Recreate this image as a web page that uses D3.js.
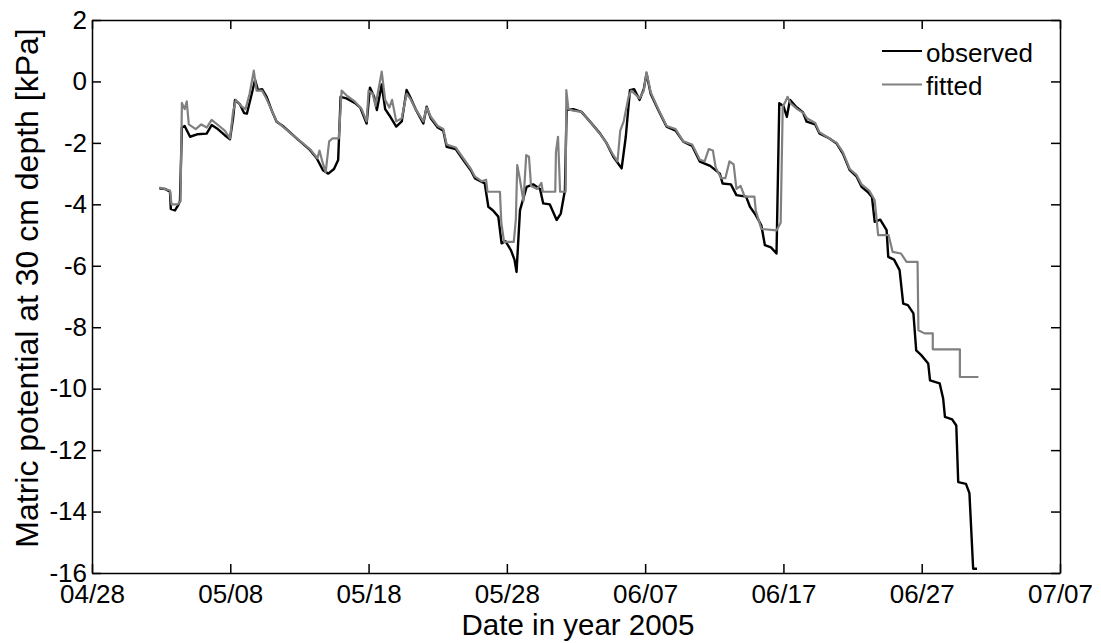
<!DOCTYPE html>
<html>
<head>
<meta charset="utf-8">
<script src="https://cdn.jsdelivr.net/npm/d3@7"></script>
<style>
  body { margin: 0; background: #fff; }
  svg { display: block; font-family: "Liberation Sans", Arial, sans-serif; }
  .axis path, .axis line { stroke: #000; stroke-width: 1.5; }
  .axis text { font-size: 26px; fill: #000; }
</style>
</head>
<body>
<svg class="chart"></svg>
<script>
// DATA /////////////////////////////////////////
// days after 2005-04-28, matric potential [kPa]
const observed = [
  [4.87, -3.48], [5.3, -3.5], [5.64, -3.59], [5.7, -4.15], [6.0, -4.2], [6.2, -4.05],
  [6.36, -3.9], [6.5, -1.5], [6.7, -1.45], [7.09, -1.8], [7.6, -1.72], [8.29, -1.7],
  [8.65, -1.42], [9.1, -1.55], [9.6, -1.75], [9.98, -1.88], [10.2, -1.2], [10.34, -0.6],
  [10.7, -0.75], [11.0, -1.03], [11.2, -1.05], [11.5, -0.5], [11.79, 0.05], [12.0, -0.28],
  [12.3, -0.25], [12.63, -0.5], [13.0, -0.95], [13.35, -1.31], [13.8, -1.45], [14.8, -1.85],
  [15.76, -2.23], [16.25, -2.5], [16.7, -2.89], [17.09, -3.0], [17.5, -2.85], [17.8, -2.56],
  [17.98, -0.5], [18.4, -0.55], [19.0, -0.7], [19.4, -0.85], [19.86, -1.37], [20.1, -0.2],
  [20.4, -0.5], [20.6, -0.93], [20.95, -0.1], [21.2, -0.9], [21.5, -1.1], [22.0, -1.47],
  [22.4, -1.3], [22.75, -0.28], [23.0, -0.5], [23.4, -0.9], [23.96, -1.37], [24.2, -0.82],
  [24.5, -1.2], [25.0, -1.5], [25.4, -1.6], [25.65, -2.13], [26.3, -2.2], [26.85, -2.56],
  [27.4, -2.9], [27.7, -3.16], [28.4, -3.32], [28.66, -4.08], [29.0, -4.2], [29.38, -4.4],
  [29.62, -5.27], [29.9, -5.2], [30.3, -5.5], [30.55, -5.8], [30.7, -6.2], [30.95, -4.19],
  [31.43, -3.43], [31.9, -3.35], [32.4, -3.5], [32.63, -3.97], [33.1, -4.0], [33.6, -4.51],
  [33.9, -4.3], [34.2, -3.54], [34.32, -0.93], [34.8, -0.9], [35.4, -0.99], [36.0, -1.3],
  [36.73, -1.69], [37.2, -2.0], [37.7, -2.45], [38.3, -2.83], [38.6, -1.8], [38.9, -0.28],
  [39.2, -0.25], [39.6, -0.6], [39.9, -0.25], [40.1, 0.26], [40.4, -0.4], [40.95, -0.93],
  [41.55, -1.47], [42.2, -1.6], [42.76, -1.96], [43.4, -2.1], [43.96, -2.61], [44.7, -2.75],
  [45.4, -3.0], [45.6, -3.32], [46.2, -3.35], [46.6, -3.7], [47.3, -3.75], [47.58, -4.08],
  [48.0, -4.35], [48.4, -4.68], [48.66, -5.33], [49.1, -5.4], [49.5, -5.6], [49.7, -0.71],
  [50.0, -0.8], [50.25, -1.15], [50.47, -0.6], [50.9, -0.82], [51.4, -1.0], [51.68, -1.31],
  [52.3, -1.4], [52.6, -1.69], [53.3, -1.85], [53.85, -2.02], [54.3, -2.35], [54.8, -2.89],
  [55.3, -3.1], [55.65, -3.43], [56.1, -3.6], [56.4, -3.76], [56.6, -4.57], [57.0, -4.5],
  [57.46, -4.84], [57.58, -5.71], [58.0, -5.8], [58.4, -6.14], [58.66, -7.23], [59.0, -7.28],
  [59.4, -7.55], [59.6, -8.75], [59.95, -8.9], [60.47, -9.18], [60.6, -9.73], [61.3, -9.83],
  [61.55, -10.32], [61.68, -10.92], [62.2, -11.0], [62.5, -11.2], [62.64, -13.04], [63.2, -13.1],
  [63.45, -13.4], [63.72, -15.86], [64.0, -15.86]
];

const fitted = [
  [4.87, -3.45], [5.64, -3.55], [5.75, -4.0], [6.2, -4.0], [6.4, -3.9], [6.5, -0.7],
  [6.7, -0.9], [6.85, -0.65], [7.0, -1.4], [7.5, -1.55], [7.9, -1.4], [8.3, -1.5],
  [8.65, -1.25], [9.2, -1.45], [9.6, -1.6], [9.98, -1.85], [10.2, -1.0], [10.4, -0.6],
  [10.8, -0.8], [11.1, -0.9], [11.4, -0.4], [11.7, 0.35], [11.9, -0.3], [12.3, -0.3],
  [12.6, -0.55], [13.35, -1.3], [14.8, -1.85], [15.76, -2.2], [16.3, -2.5], [16.45, -2.25],
  [16.65, -2.6], [16.9, -2.95], [17.15, -1.95], [17.4, -1.85], [17.85, -1.85], [18.05, -0.3],
  [18.4, -0.45], [19.0, -0.65], [19.5, -0.9], [19.86, -1.3], [20.0, -0.3], [20.3, -0.4],
  [20.5, -0.8], [20.95, 0.32], [21.2, -0.6], [21.5, -0.85], [21.7, -0.6], [22.0, -1.3],
  [22.4, -1.2], [22.75, -0.4], [23.0, -0.55], [23.4, -0.9], [23.96, -1.3], [24.2, -0.85],
  [24.5, -1.15], [25.0, -1.45], [25.4, -1.55], [25.65, -2.05], [26.3, -2.15], [26.85, -2.5],
  [27.4, -2.85], [27.7, -3.1], [28.2, -3.25], [28.5, -3.2], [28.6, -3.59], [29.5, -3.59],
  [29.6, -4.6], [29.8, -5.22], [30.5, -5.22], [30.65, -4.5], [30.75, -2.72], [30.95, -3.2],
  [31.2, -3.9], [31.4, -2.4], [31.6, -2.45], [31.75, -3.4], [32.2, -3.5], [32.5, -3.3],
  [32.6, -3.59], [33.5, -3.59], [33.55, -2.3], [33.7, -1.8], [33.85, -3.59], [34.25, -3.59],
  [34.3, -0.28], [34.45, -0.9], [34.8, -0.95], [35.4, -0.99], [36.0, -1.3], [36.73, -1.7],
  [37.2, -2.0], [37.7, -2.4], [38.0, -2.6], [38.2, -1.6], [38.45, -1.3], [38.8, -0.5],
  [39.0, -0.3], [39.6, -0.55], [39.9, -0.3], [40.1, 0.3], [40.4, -0.35], [40.95, -0.9],
  [41.55, -1.45], [42.2, -1.55], [42.76, -1.95], [43.4, -2.05], [43.96, -2.55], [44.3, -2.6],
  [44.6, -2.2], [44.9, -2.25], [45.1, -2.8], [45.5, -3.15], [45.8, -3.15], [46.1, -2.6],
  [46.4, -2.7], [46.6, -3.5], [46.9, -3.4], [47.2, -3.75], [47.9, -3.75], [48.0, -4.2],
  [48.4, -4.8], [49.5, -4.85], [49.8, -4.6], [49.95, -0.8], [50.1, -0.7], [50.3, -0.5],
  [50.5, -0.7], [51.0, -0.9], [51.5, -1.05], [51.7, -1.2], [52.3, -1.35], [52.6, -1.65],
  [53.3, -1.85], [53.85, -2.0], [54.3, -2.3], [54.8, -2.85], [55.3, -3.05], [55.65, -3.35],
  [56.2, -3.55], [56.6, -3.86], [56.85, -5.0], [57.6, -5.0], [57.9, -5.55], [58.5, -5.6],
  [58.9, -5.87], [59.7, -5.87], [59.76, -8.1], [60.2, -8.2], [60.8, -8.2], [60.8, -8.72],
  [62.76, -8.72], [62.76, -9.62], [64.1, -9.62]
];

const xTickDays = [0, 10, 20, 30, 40, 50, 60, 70];
const yTicks = [2, 0, -2, -4, -6, -8, -10, -12, -14, -16];
const legendItems = [
  { name: "observed", color: "#000" },
  { name: "fitted", color: "#808080" }
];

// DEFINITIONS /////////////////////////////////
const margin = { top: 20, right: 41, bottom: 70, left: 92 };
const width = 1101 - margin.left - margin.right;
const height = 643 - margin.top - margin.bottom;
const start = Date.UTC(2005, 3, 28);
const toDate = (d) => new Date(start + d * 864e5);

const svg = d3.select(".chart").attr("width", 1101).attr("height", 643);
const chartG = svg.append("g").attr("transform", `translate(${margin.left}, ${margin.top})`);

const x = d3.scaleUtc().domain([toDate(0), toDate(70)]).range([0, width]);
const y = d3.scaleLinear().domain([-16, 2]).range([height, 0]);

// AXES ////////////////////////////////////////
const fmt = d3.utcFormat("%m/%d");
const xTicks = xTickDays.map(toDate);

chartG.append("g").attr("class", "axis")
  .attr("transform", `translate(0, ${height})`)
  .call(d3.axisBottom(x).tickValues(xTicks).tickFormat(fmt).tickSize(-9).tickSizeOuter(0).tickPadding(12));
chartG.append("g").attr("class", "axis")
  .call(d3.axisTop(x).tickValues(xTicks).tickFormat("").tickSize(-9).tickSizeOuter(0));
chartG.append("g").attr("class", "axis")
  .call(d3.axisLeft(y).tickValues(yTicks).tickFormat((d) => d).tickSize(-9).tickSizeOuter(0).tickPadding(5));
chartG.append("g").attr("class", "axis")
  .attr("transform", `translate(${width}, 0)`)
  .call(d3.axisRight(y).tickValues(yTicks).tickFormat("").tickSize(-9).tickSizeOuter(0));

// LINES ///////////////////////////////////////
const line = d3.line().x((d) => x(toDate(d[0]))).y((d) => y(d[1]));

chartG.append("path").datum(observed)
  .attr("d", line).attr("fill", "none")
  .attr("stroke", "#000").attr("stroke-width", 2.4).attr("stroke-linejoin", "round");

chartG.append("path").datum(fitted)
  .attr("d", line).attr("fill", "none")
  .attr("stroke", "#808080").attr("stroke-width", 2.2).attr("stroke-linejoin", "round");

// LEGEND //////////////////////////////////////
const legendG = svg.append("g").attr("transform", "translate(882, 51)");
const item = legendG.selectAll("g").data(legendItems).enter().append("g")
  .attr("transform", (d, i) => `translate(0, ${i * 33.5})`);
item.append("line").attr("x1", 0).attr("x2", 40)
  .attr("stroke", (d) => d.color).attr("stroke-width", 2);
item.append("text").attr("x", 44).attr("y", 10.5)
  .style("font-size", "26px").text((d) => d.name);

// LABELS //////////////////////////////////////
svg.append("text")
  .attr("x", margin.left + width / 2 + 2).attr("y", 635)
  .attr("text-anchor", "middle").style("font-size", "29.5px")
  .text("Date in year 2005");

svg.append("text")
  .attr("transform", "translate(38, 288) rotate(-90)")
  .attr("text-anchor", "middle").style("font-size", "32px")
  .text("Matric potential at 30 cm depth [kPa]");
</script>
</body>
</html>
